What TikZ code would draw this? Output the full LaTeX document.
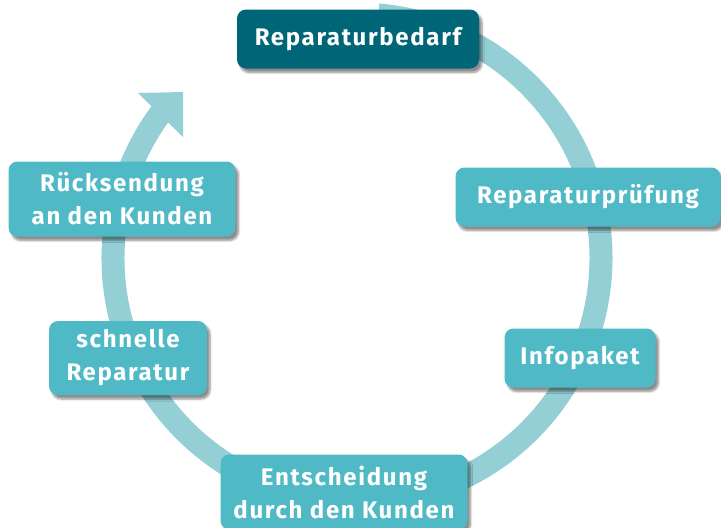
\documentclass[tikz,border=0pt]{standalone}
\usepackage{fontspec}
\setmainfont{Fira Sans}[LetterSpace=7]
\usetikzlibrary{shadows.blur}
\definecolor{bandc}{HTML}{93CFD5}
\definecolor{boxc}{HTML}{50B9C6}
\definecolor{darkc}{HTML}{006576}
\tikzset{
  stepbox/.style={rectangle, rounded corners=9pt, fill=boxc, text=white,
    font=\bfseries\fontsize{24}{33}\selectfont, align=center, inner sep=0pt,
    blur shadow={shadow xshift=3pt, shadow yshift=-4pt, shadow blur steps=6, shadow opacity=45}},
  band/.style={draw=bandc, line width=23pt}
}
\begin{document}
\begin{tikzpicture}[x=1pt,y=-1pt]
\useasboundingbox (0,0) rectangle (721,528);
\coordinate (c) at (357,258);
\draw[band] (c) ++(-85:244) arc[start angle=-85, end angle=217, radius=244];
\fill[bandc] (183,92) -- (138,93) -- (183,137) -- cycle;
\node[stepbox, fill=darkc, minimum width=242pt, minimum height=59pt] (a) at (358,39) {Reparaturbedarf};
\node[stepbox, minimum width=265pt, minimum height=59pt] (b) at (588,197) {Reparaturprüfung};
\node[stepbox, minimum width=151pt, minimum height=59pt] (d) at (580,358) {Infopaket};
\node[stepbox, minimum width=247pt, minimum height=75pt] (e) at (344,492) {Entscheidung\\durch den Kunden};
\node[stepbox, minimum width=158pt, minimum height=74pt] (f) at (128,358) {schnelle\\Reparatur};
\node[stepbox, minimum width=227pt, minimum height=75pt] (g) at (122,199) {Rücksendung\\an den Kunden};
\end{tikzpicture}
\end{document}
